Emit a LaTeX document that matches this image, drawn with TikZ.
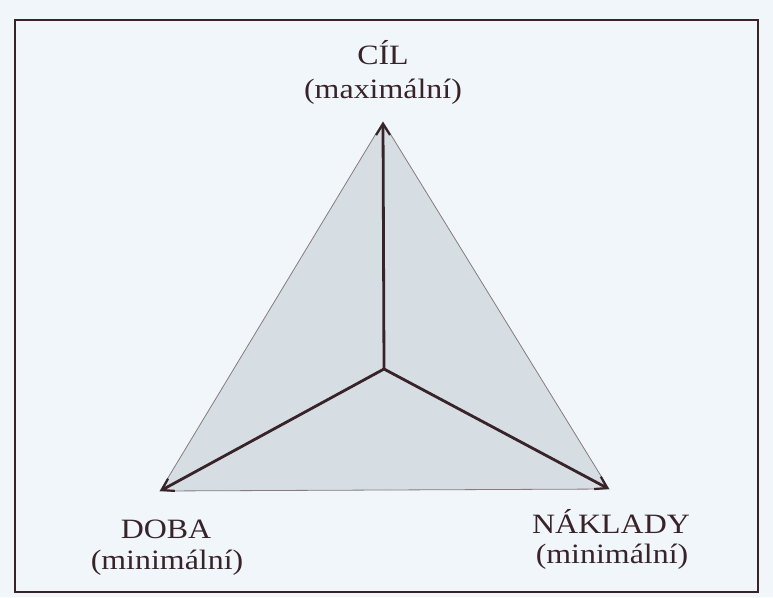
\documentclass[tikz,border=0pt]{standalone}
\usepackage{fontspec}
\setmainfont{Liberation Serif}
\usetikzlibrary{arrows.meta}
\definecolor{paper}{RGB}{240,246,250}
\definecolor{trifill}{RGB}{214,222,228}
\definecolor{ink}{RGB}{55,35,40}
\tikzset{
  lbl/.style={font=\fontsize{28}{32}\selectfont, text=ink, align=center, inner sep=0pt, xscale=1.14},
  axis/.style={draw=ink, line width=2.8pt, -{Straight Barb[length=11pt,width=14pt,line width=2.2pt]}},
}
\begin{document}
\begin{tikzpicture}[x=1pt,y=-1pt]
\useasboundingbox (0,0) rectangle (773,597);
\fill[paper] (0,0) rectangle (773,597);
\draw[ink, line width=2.8pt] (15,20) rectangle (758,592);
\coordinate (A) at (383,122);
\coordinate (L) at (160,491);
\coordinate (R) at (609,489);
\coordinate (C) at (384,369);
\filldraw[fill=trifill, draw=ink!60, line width=0.8pt] (A) -- (L) -- (R) -- cycle;
\draw[axis] (C) -- (A);
\draw[axis] (C) -- (L);
\draw[axis] (C) -- (R);
\node[lbl] (cil) at (383,53) {CÍL};
\node[lbl] (cilm) at (383,92) {(maximální)};
\node[lbl] (doba) at (166,529) {DOBA};
\node[lbl] (dobam) at (167,563) {(minimální)};
\node[lbl] (nak) at (611,522) {NÁKLADY};
\node[lbl] (nakm) at (612,557) {(minimální)};
\end{tikzpicture}
\end{document}
